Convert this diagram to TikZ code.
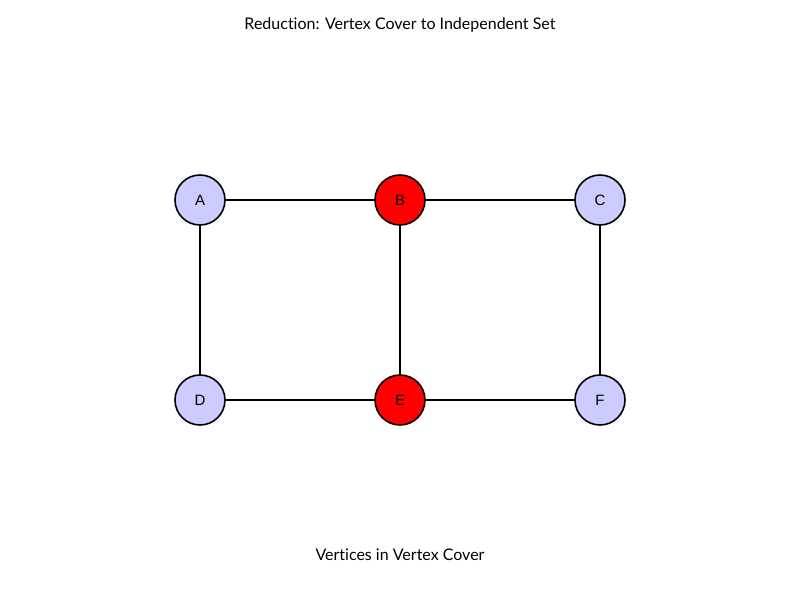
\documentclass[tikz,border=0pt]{standalone}
\usepackage{fontspec}
\setmainfont{Lato}[Ligatures=NoCommon]
\newfontfamily\labelfont{Liberation Sans}
\usepackage{tikz}
\usetikzlibrary{positioning}
\definecolor{Ink}{HTML}{000000}
\definecolor{VertexSoft}{HTML}{CCCCFF}
\definecolor{CoverRed}{HTML}{FF0000}
\tikzset{
  vertex/.style={circle,draw=Ink,line width=1.6pt,minimum size=50pt,inner sep=0pt,outer sep=0pt,fill=VertexSoft,text=Ink,font=\labelfont\fontsize{15}{17}\selectfont},
  coververtex/.style={vertex,fill=CoverRed},
  edge/.style={draw=Ink,line width=1.6pt},
  caption/.style={text=Ink,font=\fontsize{16}{19}\selectfont}
}
\begin{document}
\begin{tikzpicture}[x=1pt,y=1pt,node distance=150pt and 150pt]
\useasboundingbox (0,0) rectangle (800,600);
\node[caption] (title) at (400,575) {Reduction: Vertex Cover to Independent Set};
\node[vertex] (A) at (200,400) {A};
\node[coververtex,right=of A] (B) {B};
\node[vertex,right=of B] (C) {C};
\node[vertex,below=of A] (D) {D};
\node[coververtex,right=of D] (E) {E};
\node[vertex,right=of E] (F) {F};
\draw[edge] (A)--(B);\draw[edge] (B)--(C);
\draw[edge] (A)--(D);\draw[edge] (B)--(E);\draw[edge] (C)--(F);
\draw[edge] (D)--(E);\draw[edge] (E)--(F);
\node[caption] (legend) at (400,45) {Vertices in Vertex Cover};
\end{tikzpicture}
\end{document}
